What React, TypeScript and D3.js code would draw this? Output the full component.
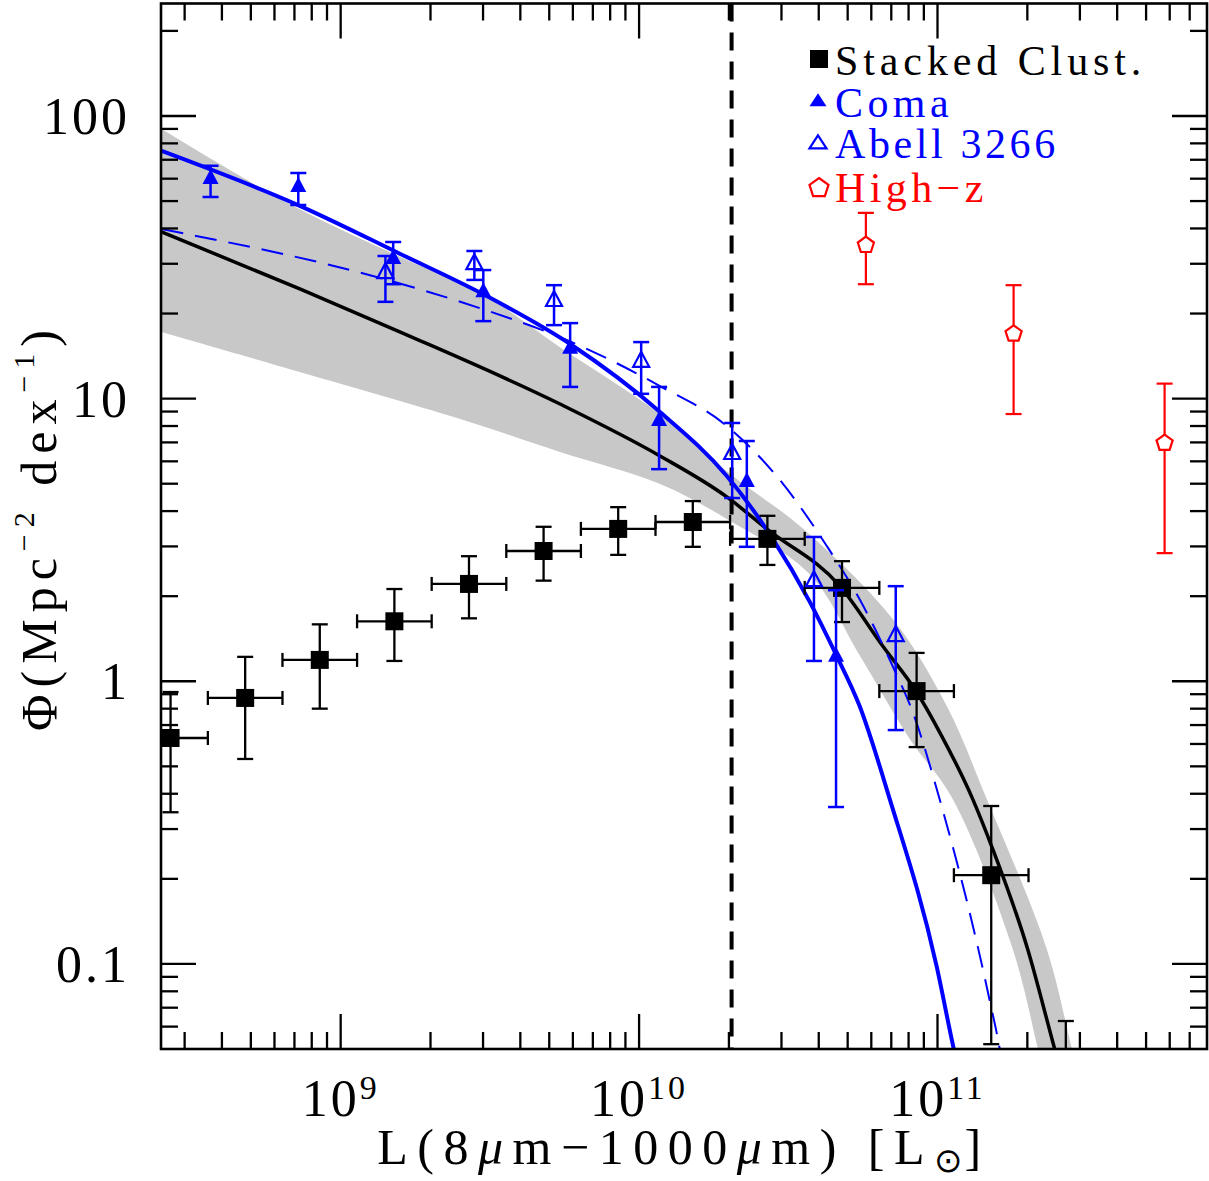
import React from 'react';
import * as d3 from 'd3';

// luminosity values are log10(L / Lsun), Phi in Mpc^-2 dex^-1

// Stacked clusters (black squares)
const stackLogL = [8.43, 8.68, 8.93, 9.18, 9.43, 9.68, 9.93, 10.18, 10.43, 10.68, 10.93, 11.18, 11.43];
const stackPhi = [0.63, 0.873, 1.19, 1.63, 2.21, 2.89, 3.46, 3.66, 3.19, 2.14, 0.923, 0.206, 0.03];
const stackLo = [0.344, 0.531, 0.8, 1.18, 1.67, 2.27, 2.8, 2.99, 2.58, 1.62, 0.585, 0.052, 0.01];
const stackHi = [0.916, 1.22, 1.59, 2.12, 2.77, 3.52, 4.13, 4.34, 3.85, 2.66, 1.26, 0.362, 0.0628];
const stackBinHalf = 0.125; // dex

// Coma (filled triangles)
const comaLogL = [8.564, 8.858, 9.176, 9.478, 9.769, 10.067, 10.361, 10.66];
const comaPhi = [59.8, 56.1, 31.2, 23.8, 15.0, 8.34, 5.07, 1.22];
const comaLo = [51.7, 48.4, 25.4, 18.8, 11.0, 5.63, 2.99, 0.359];
const comaHi = [66.6, 62.8, 35.8, 28.5, 18.5, 11.0, 7.08, 2.1];

// Abell 3266 (open triangles)
const abellLogL = [9.15, 9.448, 9.715, 10.007, 10.312, 10.586, 10.86];
const abellPhi = [27.8, 29.9, 22.15, 13.5, 6.37, 2.26, 1.445];
const abellLo = [22.0, 26.3, 18.2, 10.4, 4.45, 1.18, 0.672];
const abellHi = [31.96, 33.3, 25.2, 15.85, 8.2, 3.24, 2.17];

// High-z (open pentagons)
const highzLogL = [10.76, 11.255, 11.761];
const highzPhi = [35.2, 17.1, 7.02];
const highzLo = [25.4, 8.82, 2.84];
const highzHi = [45.4, 25.2, 11.3];

// fit curves
const fitStackLogL = [8.4, 8.865, 9.2, 9.735, 10.07, 10.294, 10.432, 10.673, 10.817, 10.93, 11.007, 11.118, 11.185, 11.302, 11.392, 11.46];
const fitStackPhi = [38.9, 24.4, 17.2, 9.57, 6.27, 4.49, 3.43, 2.17, 1.33, 0.916, 0.661, 0.383, 0.255, 0.113, 0.0503, 0.0275];

const fitComaLogL = [8.4, 8.865, 9.2, 9.478, 9.769, 10.07, 10.294, 10.448, 10.572, 10.662, 10.739, 10.84, 10.997, 11.054, 11.101];
const fitComaPhi = [75.2, 48.0, 32.5, 23.4, 15.6, 8.97, 5.32, 3.19, 1.91, 1.23, 0.817, 0.383, 0.0982, 0.0503, 0.0306];

const fitAbellLogL = [8.4, 9.156, 9.478, 9.735, 10.07, 10.294, 10.461, 10.629, 10.739, 10.85, 10.917, 11.007, 11.174, 11.208, 11.234];
const fitAbellPhi = [39.8, 26.3, 20.7, 16.5, 11.08, 8.0, 5.32, 3.01, 1.95, 1.13, 0.778, 0.383, 0.075, 0.0503, 0.0333];

// uncertainty band of the stacked fit
const bandUpLogL = [8.4, 8.842, 9.2, 9.478, 9.735, 10.07, 10.314, 10.539, 10.85, 11.031, 11.165, 11.366, 11.45, 11.493];
const bandUpPhi = [89.9, 48.0, 31.7, 23.3, 15.2, 8.82, 5.32, 3.54, 1.66, 0.817, 0.383, 0.113, 0.0503, 0.0333];
const bandLoLogL = [8.4, 8.865, 9.401, 9.735, 10.07, 10.294, 10.572, 10.74, 10.907, 11.051, 11.252, 11.336, 11.376];
const bandLoPhi = [17.2, 12.4, 8.47, 6.47, 4.99, 3.75, 2.39, 1.23, 0.625, 0.383, 0.113, 0.0503, 0.0333];

const cutLogL = 10.31;

const xMajor = [1e9, 1e10, 1e11];
const xMajorExp = ['9', '10', '11'];
const yMajor = [0.1, 1, 10, 100];
const yMajorLabel = ['0.1', '1', '10', '100'];

const legendLabels = ['Stacked Clust.', 'Coma', 'Abell 3266', 'High\u2212z'];

const FONT = "'Liberation Serif', 'DejaVu Serif', serif";
const BLUE = '#0000ff';
const RED = '#ff0000';

const tri = (w: number, h: number) => `M0,${-h * 2 / 3}L${w / 2},${h / 3}L${-w / 2},${h / 3}Z`;
const pent = (r: number) =>
  'M' + d3.range(5).map(i => {
    const a = -Math.PI / 2 + i * 2 * Math.PI / 5;
    return `${(r * Math.cos(a)).toFixed(2)},${(r * Math.sin(a)).toFixed(2)}`;
  }).join('L') + 'Z';

const App: React.FC = () => {
  const left = 161, right = 1207, top = 3.5, bottom = 1049;
  const x = d3.scaleLog().domain([2.5e8, 8e11]).range([left, right]);
  const y = d3.scaleLog().domain([0.05, 250]).range([bottom, top]);
  const xl = (l: number) => x(Math.pow(10, l));

  const line = d3.line<[number, number]>()
    .x(d => xl(d[0]))
    .y(d => y(d[1]))
    .curve(d3.curveMonotoneX);

  const zip = (a: number[], b: number[]) => a.map((v, i) => [v, b[i]] as [number, number]);

  // band: smooth upper edge, then smooth lower edge walked backwards
  const edge = d3.line<[number, number]>()
    .x(d => xl(d[0]))
    .y(d => y(d[1]))
    .curve(d3.curveCatmullRom.alpha(0.5));
  const upperPath = edge(zip(bandUpLogL, bandUpPhi)) || '';
  const lowerPath = (edge(zip(bandLoLogL, bandLoPhi).reverse()) || '').replace(/^M/, 'L');
  const bandPath = upperPath + lowerPath + 'Z';

  // minor ticks
  const xMinor: number[] = [];
  const yMinor: number[] = [];
  for (let e = 8; e <= 11; e++) for (let k = 2; k <= 9; k++) {
    const v = k * Math.pow(10, e);
    if (v > 2.5e8 && v < 8e11) xMinor.push(v);
  }
  for (let e = -2; e <= 2; e++) for (let k = 2; k <= 9; k++) {
    const v = k * Math.pow(10, e);
    if (v > 0.05 && v < 250) yMinor.push(v);
  }

  const vErr = (cx: number, lo: number, hi: number, cap: number, color: string, sw: number, key: string) => (
    <g key={key} stroke={color} strokeWidth={sw} fill="none">
      <line x1={cx} x2={cx} y1={y(hi)} y2={y(lo)} />
      <line x1={cx - cap} x2={cx + cap} y1={y(hi)} y2={y(hi)} />
      <line x1={cx - cap} x2={cx + cap} y1={y(lo)} y2={y(lo)} />
    </g>
  );

  return (
    <svg width={1209} height={1181} style={{ position: 'absolute', left: 0, top: 0, background: '#fff' }}
      fontFamily={FONT}>
      <defs>
        <clipPath id="plotclip">
          <rect x={left} y={top} width={right - left} height={bottom - top} />
        </clipPath>
      </defs>

      <g clipPath="url(#plotclip)">
        <path d={bandPath} fill="#c8c8c8" stroke="none" />
        <line x1={xl(cutLogL)} x2={xl(cutLogL)} y1={top} y2={bottom} stroke="#000" strokeWidth={4}
          strokeDasharray="18 11" />
        <path d={line(zip(fitStackLogL, fitStackPhi)) || ''} fill="none" stroke="#000" strokeWidth={3.5} />
        <path d={line(zip(fitComaLogL, fitComaPhi)) || ''} fill="none" stroke={BLUE} strokeWidth={4} />
        <path d={line(zip(fitAbellLogL, fitAbellPhi)) || ''} fill="none" stroke={BLUE} strokeWidth={2}
          strokeDasharray="22 12" />

        {/* stacked clusters */}
        {stackLogL.map((l, i) => {
          const cx = xl(l), cy = y(stackPhi[i]);
          const xa = xl(l - stackBinHalf), xb = xl(l + stackBinHalf);
          return (
            <g key={'s' + i}>
              {vErr(cx, stackLo[i], stackHi[i], 8, '#000', 2.3, 'sv' + i)}
              <g stroke="#000" strokeWidth={2.3}>
                <line x1={xa} x2={xb} y1={cy} y2={cy} />
                <line x1={xa} x2={xa} y1={cy - 7} y2={cy + 7} />
                <line x1={xb} x2={xb} y1={cy - 7} y2={cy + 7} />
              </g>
              <rect x={cx - 9} y={cy - 9} width={18} height={18} fill="#000" />
            </g>
          );
        })}

        {/* Coma */}
        {comaLogL.map((l, i) => {
          const cx = xl(l), cy = y(comaPhi[i]);
          return (
            <g key={'c' + i}>
              {vErr(cx, comaLo[i], comaHi[i], 8, BLUE, 2.5, 'cv' + i)}
              <path d={tri(16, 15)} transform={`translate(${cx},${cy})`} fill={BLUE} />
            </g>
          );
        })}

        {/* Abell 3266 */}
        {abellLogL.map((l, i) => {
          const cx = xl(l), cy = y(abellPhi[i]);
          return (
            <g key={'a' + i}>
              {vErr(cx, abellLo[i], abellHi[i], 8, BLUE, 2.5, 'av' + i)}
              <path d={tri(16, 15)} transform={`translate(${cx},${cy})`} fill="none"
                stroke={BLUE} strokeWidth={2.2} />
            </g>
          );
        })}

        {/* High-z */}
        {highzLogL.map((l, i) => {
          const cx = xl(l), cy = y(highzPhi[i]);
          return (
            <g key={'h' + i}>
              {vErr(cx, highzLo[i], highzHi[i], 8, RED, 2.2, 'hv' + i)}
              <path d={pent(8.5)} transform={`translate(${cx},${cy + 1})`} fill="#fff"
                stroke={RED} strokeWidth={2.2} />
            </g>
          );
        })}
      </g>

      {/* frame and ticks */}
      <g stroke="#000" strokeWidth={2.3}>
        <rect x={left} y={top} width={right - left} height={bottom - top} fill="none" strokeWidth={2.6} />
        {xMajor.map(v => (
          <g key={'xM' + v}>
            <line x1={x(v)} x2={x(v)} y1={bottom} y2={bottom - 35} />
            <line x1={x(v)} x2={x(v)} y1={top} y2={top + 35} />
          </g>
        ))}
        {xMinor.map(v => (
          <g key={'xm' + v}>
            <line x1={x(v)} x2={x(v)} y1={bottom} y2={bottom - 17} />
            <line x1={x(v)} x2={x(v)} y1={top} y2={top + 17} />
          </g>
        ))}
        {yMajor.map(v => (
          <g key={'yM' + v}>
            <line x1={left} x2={left + 35} y1={y(v)} y2={y(v)} />
            <line x1={right} x2={right - 35} y1={y(v)} y2={y(v)} />
          </g>
        ))}
        {yMinor.map(v => (
          <g key={'ym' + v}>
            <line x1={left} x2={left + 17} y1={y(v)} y2={y(v)} />
            <line x1={right} x2={right - 17} y1={y(v)} y2={y(v)} />
          </g>
        ))}
      </g>

      {/* tick labels */}
      <g fill="#000" fontSize={52} letterSpacing={3}>
        {yMajor.map((v, i) => (
          <text key={'yl' + v} x={130} y={y(v) + 18} textAnchor="end">{yMajorLabel[i]}</text>
        ))}
        {xMajor.map((v, i) => (
          <text key={'xl' + v} x={x(v)} y={1116} textAnchor="middle">
            10<tspan fontSize={34} dy={-17}>{xMajorExp[i]}</tspan>
          </text>
        ))}
      </g>

      {/* axis titles */}
      <text x={684} y={1164} textAnchor="middle" fontSize={50} letterSpacing={9.5} fill="#000">
        L(8<tspan fontStyle="italic">{'\u03bc'}</tspan>m{'\u2212'}1000<tspan fontStyle="italic">{'\u03bc'}</tspan>m)
        {'\u00a0'}[L<tspan fontSize={34} dy={8} fontFamily="'DejaVu Sans', sans-serif" letterSpacing={2}>{'\u2299'}</tspan>
        <tspan dy={-8}>]</tspan>
      </text>
      <text transform="translate(56,527) rotate(-90)" textAnchor="middle" fontSize={50} letterSpacing={7}
        fill="#000">
        {'\u03a6'}(Mpc<tspan fontSize={30} dy={-22}>{'\u2212'}2</tspan>
        <tspan dy={22}>{'\u00a0'}dex</tspan>
        <tspan fontSize={30} dy={-22}>{'\u2212'}1</tspan>
        <tspan dy={22}>)</tspan>
      </text>

      {/* legend */}
      <g fontSize={42} letterSpacing={4.9}>
        <rect x={810} y={50} width={18} height={18} fill="#000" />
        <text x={835} y={75} fill="#000">{legendLabels[0]}</text>
        <path d={tri(17, 13)} transform="translate(818,102)" fill={BLUE} />
        <text x={835} y={117} fill={BLUE} letterSpacing={4.4}>{legendLabels[1]}</text>
        <path d={tri(17, 13)} transform="translate(818,144)" fill="none" stroke={BLUE} strokeWidth={2.2} />
        <text x={835} y={158} fill={BLUE} letterSpacing={3.6}>{legendLabels[2]}</text>
        <path d={pent(10)} transform="translate(819,188)" fill="none" stroke={RED} strokeWidth={2.2} />
        <text x={835} y={202} fill={RED} letterSpacing={4.4}>{legendLabels[3]}</text>
      </g>
    </svg>
  );
};

export default App;
